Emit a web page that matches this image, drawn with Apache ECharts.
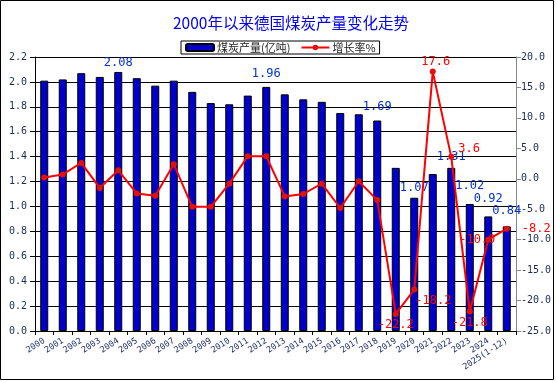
<!DOCTYPE html>
<html><head><meta charset="utf-8">
<script src="https://cdn.jsdelivr.net/npm/echarts@6/dist/echarts.min.js"></script>
<style>html,body{margin:0;padding:0;background:#fff}#c{width:556px;height:382px}</style>
</head><body><div id="c"></div>
<script>
var years = ['2000','2001','2002','2003','2004','2005','2006','2007','2008','2009','2010','2011','2012','2013','2014','2015','2016','2017','2018','2019','2020','2021','2022','2023','2024','2025(1-12)'];
var output = [2.01,2.02,2.07,2.04,2.08,2.03,1.97,2.01,1.92,1.83,1.82,1.89,1.96,1.90,1.86,1.84,1.75,1.74,1.69,1.31,1.07,1.26,1.31,1.02,0.92,0.84];
var growth = [0.2,0.7,2.6,-1.5,1.4,-2.4,-2.8,2.4,-4.6,-4.6,-0.8,3.7,3.7,-2.9,-2.5,-0.8,-4.8,-0.4,-3.5,-22.2,-18.2,17.6,3.6,-21.8,-10.0,-8.2];
var leftTicks = ['0.0','0.2','0.4','0.6','0.8','1.0','1.2','1.4','1.6','1.8','2.0','2.2'];
var rightTicks = ['-25.0','-20.0','-15.0','-10.0','-5.0','0.0','5.0','10.0','15.0','20.0'];

var numFont = 'DejaVu Sans Mono';
var barLabelCfg = {4:3, 12:7, 18:8, 20:4, 22:5, 23:12, 24:12, 25:10};
var lineLabelCfg = {
  19:{position:'bottom', distance:2},
  20:{position:'right', distance:0, offset:[-2,11]},
  21:{position:'top', distance:1, offset:[3,0]},
  22:{position:'right', distance:4, offset:[0,-8]},
  23:{position:'bottom', distance:2},
  24:{position:'inside', offset:[-11,0]},
  25:{position:'right', distance:12}
};

var barData = output.map(function(v,i){
  var o = {value:v};
  if (barLabelCfg[i] !== undefined) o.label = {show:true, position:'top', distance:barLabelCfg[i]};
  return o;
});
var lineData = growth.map(function(v,i){
  var o = {value:v};
  if (lineLabelCfg[i]) o.label = Object.assign({show:true}, lineLabelCfg[i]);
  return o;
});

var chart = echarts.init(document.getElementById('c'), null, {renderer:'canvas'});
chart.setOption({
  animation:false,
  backgroundColor:'#fff',
  title:{text:'2000年以来德国煤炭产量变化走势', left:168, top:10,
    textStyle:{fontSize:15.5, fontWeight:'normal', color:'#0000EE', fontFamily:'Noto Sans CJK SC'}},
  legend:{left:181, top:41, padding:[0,4], itemGap:10, itemWidth:28, itemHeight:7,
    borderColor:'#000', borderWidth:1,
    textStyle:{fontSize:11, color:'#222', fontFamily:'Noto Sans CJK SC', lineHeight:13, padding:[0,0,0,-2]},
    data:[{name:'煤炭产量(亿吨)'},{name:'增长率%'}]},
  graphic:[{type:'rect', shape:{x:0.5,y:0.5,width:553,height:379}, style:{fill:'none', stroke:'#000', lineWidth:1}, silent:true}],
  grid:{left:35, right:40, top:57, bottom:51, containLabel:false},
  xAxis:{type:'category', data:years, boundaryGap:true,
    axisLine:{lineStyle:{color:'#000', width:1}},
    axisTick:{show:true, alignWithLabel:false, length:4, lineStyle:{color:'#000'}},
    axisLabel:{rotate:33, fontSize:8.5, color:'#1a2a6a', fontFamily:numFont, margin:9, interval:0, hideOverlap:false}},
  yAxis:[
    {type:'value', min:0, max:2.2, interval:0.2, position:'left',
      axisLine:{show:true, lineStyle:{color:'#000'}},
      axisTick:{show:true, length:5, lineStyle:{color:'#000'}},
      splitLine:{show:true, lineStyle:{color:'#000', width:1}},
      axisLabel:{fontSize:10, color:'#1a2a5a', fontFamily:numFont, margin:8,
        formatter:function(v){var s=v.toFixed(1); return leftTicks.indexOf(s)>=0?s:'';}}},
    {type:'value', min:-25, max:20, interval:5, position:'right',
      axisLine:{show:true, lineStyle:{color:'#888'}},
      axisTick:{show:true, length:5, lineStyle:{color:'#888'}},
      splitLine:{show:false},
      axisLabel:{fontSize:10, color:'#1a2a5a', fontFamily:numFont, margin:5,
        formatter:function(v){var s=v.toFixed(1); return rightTicks.indexOf(s)>=0?s:'';}}}
  ],
  series:[
    {name:'煤炭产量(亿吨)', type:'bar', yAxisIndex:0, data:barData, barWidth:8,
      itemStyle:{color:'#0000CC', borderColor:'#000', borderWidth:1},
      label:{show:false, color:'#0033CC', fontSize:12, fontFamily:numFont, formatter:function(p){return p.value.toFixed(2);}}},
    {name:'增长率%', type:'line', yAxisIndex:1, data:lineData, z:5,
      lineStyle:{color:'#FF0000', width:2}, itemStyle:{color:'#E41010'},
      symbol:'circle', symbolSize:6, showSymbol:true,
      label:{show:false, color:'#FF0000', fontSize:12, fontFamily:numFont, formatter:function(p){return p.value.toFixed(1);}}}
  ]
});
</script></body></html>
